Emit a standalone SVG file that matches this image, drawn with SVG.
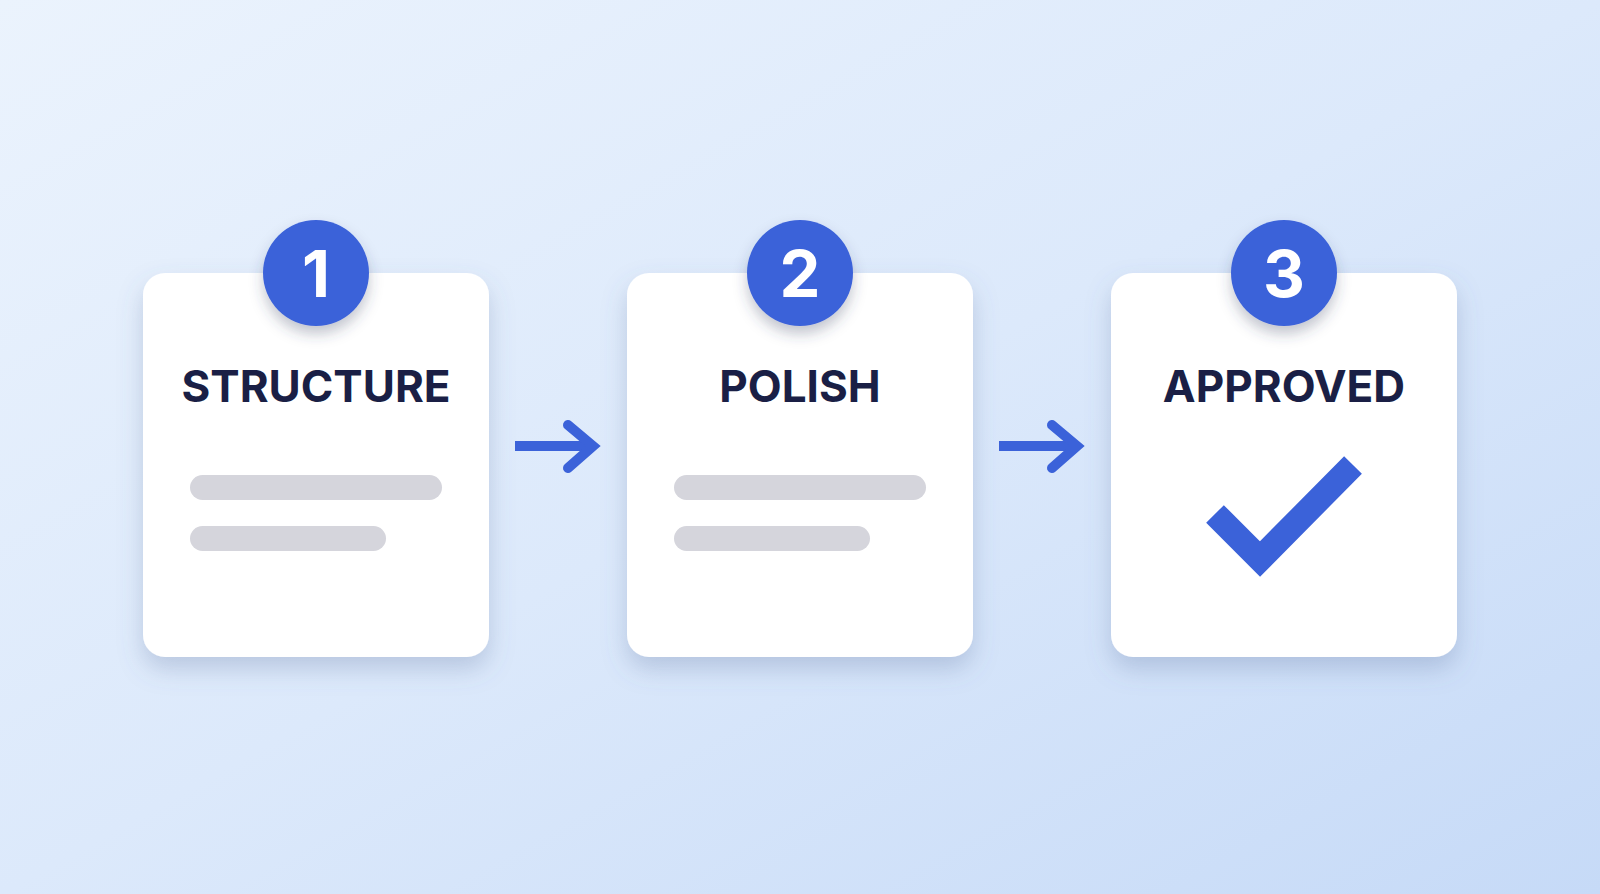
<svg xmlns="http://www.w3.org/2000/svg" width="1600" height="894" viewBox="0 0 1600 894">
<defs>
<linearGradient id="bg" x1="0" y1="0" x2="1" y2="1">
<stop offset="0" stop-color="#ebf3fd"/>
<stop offset="0.5" stop-color="#dce9fb"/>
<stop offset="1" stop-color="#c6daf7"/>
</linearGradient>
<filter id="cardShadow" x="-20%" y="-20%" width="140%" height="150%">
<feDropShadow dx="0" dy="12" stdDeviation="12" flood-color="#5a6f9a" flood-opacity="0.28"/>
</filter>
<filter id="circShadow" x="-40%" y="-40%" width="180%" height="200%">
<feDropShadow dx="0" dy="8" stdDeviation="7" flood-color="#3a3f60" flood-opacity="0.3"/>
</filter>
<style>
.card{fill:#ffffff;filter:url(#cardShadow)}
.badge{fill:#3b62d9;filter:url(#circShadow)}
.num{font-family:Inter,"Liberation Sans",sans-serif;font-weight:700;font-size:65px;fill:#ffffff;text-anchor:middle}
.title{font-family:Inter,"Liberation Sans",sans-serif;font-weight:700;font-size:44px;fill:#1a1f45;text-anchor:middle}
.bar{fill:#d5d5dc}
.arrow{fill:none;stroke:#3b62d9;stroke-width:10}
</style>
</defs>
<rect width="1600" height="894" fill="url(#bg)"/>
<g id="connectors">
<path class="arrow" d="M515 446 H590"/>
<path class="arrow" d="M568 425 L593 446 L568 468" stroke-linecap="round" stroke-linejoin="miter"/>
<path class="arrow" d="M999 446 H1074"/>
<path class="arrow" d="M1052 425 L1077 446 L1052 468" stroke-linecap="round" stroke-linejoin="miter"/>
</g>
<g id="step1">
<rect class="card" x="143" y="273" width="346" height="384" rx="22"/>
<circle class="badge" cx="316" cy="273" r="53"/>
<text class="num" x="316" y="297">1</text>
<text class="title" x="316" y="402">STRUCTURE</text>
<rect class="bar" x="190" y="475" width="252" height="25" rx="12.5"/>
<rect class="bar" x="190" y="526" width="196" height="25" rx="12.5"/>
</g>
<g id="step2">
<rect class="card" x="627" y="273" width="346" height="384" rx="22"/>
<circle class="badge" cx="800" cy="273" r="53"/>
<text class="num" x="800" y="297">2</text>
<text class="title" x="800" y="402">POLISH</text>
<rect class="bar" x="674" y="475" width="252" height="25" rx="12.5"/>
<rect class="bar" x="674" y="526" width="196" height="25" rx="12.5"/>
</g>
<g id="step3">
<rect class="card" x="1111" y="273" width="346" height="384" rx="22"/>
<circle class="badge" cx="1284" cy="273" r="53"/>
<text class="num" x="1284" y="297">3</text>
<text class="title" x="1284" y="402">APPROVED</text>
<path d="M1215 514 L1260 559 L1353 465" fill="none" stroke="#3b62d9" stroke-width="25" stroke-linejoin="miter" stroke-miterlimit="10"/>
</g>
</svg>
